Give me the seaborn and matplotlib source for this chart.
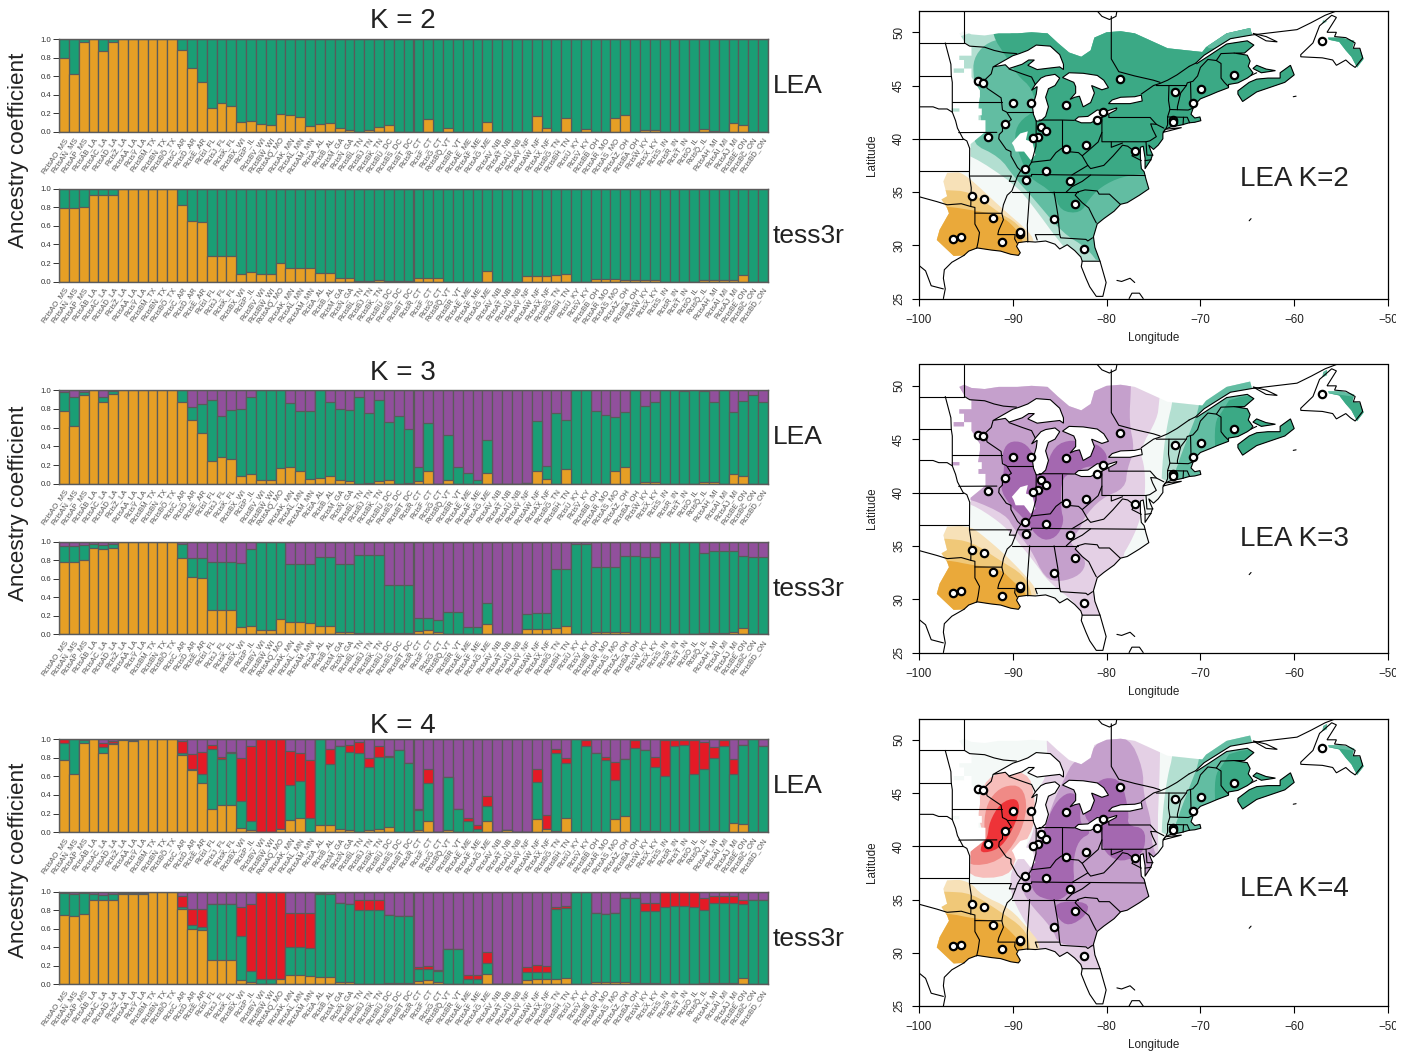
"""
plot.py
-------
Ancestry coefficient bar plots (LEA / tess3r) and interpolated ancestry maps for K = 2, 3, 4.
"""

import matplotlib
matplotlib.use("Agg")
import matplotlib.pyplot as plt
import numpy as np
import seaborn as sns
from matplotlib.patches import PathPatch, Polygon, Rectangle
from matplotlib.path import Path

# ------------------------------------------------------------------
#  Bar plot data (cumulative tops, bottom to top)
# ------------------------------------------------------------------

samples = [
    "RcisAO_MS", "RcisAN_MS", "RcisAP_MS", "RcisAB_LA", "RcisAC_LA", "RcisAD_LA", "RcisZ_LA", "RcisAA_LA",
    "RcisY_LA", "RcisBM_TX", "RcisBN_TX", "RcisBO_TX", "RcisC_AR", "RcisD_AR", "RcisE_AR", "RcisI_FL",
    "RcisJ_FL", "RcisK_FL", "RcisBX_WI", "RcisP_IL", "RcisBV_WI", "RcisBW_WI", "RcisAQ_MO", "RcisAK_MN",
    "RcisAL_MN", "RcisAM_MN", "RcisA_AL", "RcisB_AL", "RcisM_GA", "RcisN_GA", "RcisBL_TN", "RcisBJ_TN",
    "RcisBK_TN", "RcisBU_DC", "RcisBS_DC", "RcisBT_DC", "RcisR_CT", "RcisF_CT", "RcisG_CT", "RcisBQ_VT",
    "RcisBR_VT", "RcisAE_ME", "RcisAF_ME", "RcisAG_ME", "RcisAV_NB", "RcisAT_NB", "RcisAU_NB", "RcisAY_NF",
    "RcisAW_NF", "RcisAX_NF", "RcisBG_TN", "RcisBH_TN", "RcisU_KY", "RcisV_KY", "RcisBB_OH", "RcisAR_MO",
    "RcisAS_MO", "RcisAZ_OH", "RcisBA_OH", "RcisW_KY", "RcisX_KY", "RcisS_IN", "RcisR_IN", "RcisT_IN",
    "RcisO_IL", "RcisQ_IL", "RcisAH_MI", "RcisAI_MI", "RcisAJ_MI", "RcisBE_ON", "RcisBC_ON", "RcisBD_ON",
]

k2_lea_orange = [.80, .62, .97, 1, .87, .97, 1, 1, 1, 1, 1, 1, .88, .69, .54, .26, .31, .28, .11, .12,
                 .09, .08, .19, .18, .16, .06, .085, .095, .04, .02, 0, .02, .05, .07, 0, 0, 0, .14, 0, .04,
                 0, 0, 0, .11, 0, 0, 0, .005, .17, .04, 0, .15, 0, .03, 0, 0, .15, .18, 0, .025,
                 .02, 0, 0, 0, 0, .03, .01, 0, .10, .08, 0, 0]
k2_tess_orange = [.79, .79, .80, .93, .93, .93, 1, 1, 1, 1, 1, 1, .82, .65, .645, .275, .275, .275, .085, .10,
                  .08, .08, .20, .15, .15, .145, .09, .095, .035, .035, .01, .01, .02, .01, .005, .005, .045, .045, .035, 0,
                  0, 0, 0, .12, 0, 0, 0, .06, .06, .06, .07, .08, 0, 0, .03, .03, .03, .02, .015, .015,
                  .015, 0, 0, 0, 0, .02, .02, .02, .02, .07, 0, 0]

k3_lea_orange = [.78, .62, .95, 1, .87, .96, 1, 1, 1, 1, 1, 1, .87, .68, .54, .24, .285, .265, .08, .10,
                 .04, .04, .165, .175, .14, .055, .065, .085, .04, .025, 0, .01, .03, .04, 0, .01, .025, .135, 0, .035,
                 0, 0, 0, .11, 0, 0, 0, .005, .14, .05, 0, .16, 0, 0, 0, 0, .14, .175, 0, .02,
                 .015, 0, 0, 0, 0, .02, .015, 0, .10, .08, 0, 0]
k3_lea_green = [.985, .93, .98, 1, .93, .99, 1, 1, 1, 1, 1, 1, 1, .82, .85, .90, .73, .785, .80, .93,
                1, 1, 1, .86, .78, .78, 1, .88, .795, .79, .93, .76, .895, .665, .72, .585, .175, .65, 0, .52,
                .18, .11, .035, .47, 0, 0, 0, .005, .67, .185, .76, .68, 1, 1, .78, .74, .71, .765, 1, .83,
                .875, 1, 1, .99, 1, .99, .875, 1, .765, .885, .955, .87]
k3_tess_orange = [.78, .78, .80, .935, .925, .935, 1, 1, 1, 1, 1, 1, .825, .62, .61, .265, .265, .265, .075, .09,
                  .05, .05, .165, .135, .135, .125, .09, .09, .03, .03, .01, .01, .015, .01, .01, .01, .04, .045, .03, 0,
                  0, 0, 0, .11, 0, 0, 0, .055, .06, .06, .07, .085, 0, 0, .025, .025, .03, .02, .015, .01,
                  .01, 0, 0, 0, 0, .015, .015, .015, .02, .07, 0, 0]
k3_tess_green = [.955, .955, .96, .97, .96, .97, 1, 1, 1, 1, 1, 1, .97, .825, .825, .785, .785, .785, .775, .925,
                 1, 1, 1, .755, .755, .755, .84, .84, .755, .755, .855, .855, .855, .535, .53, .535, .175, .18, .155, .24,
                 .24, .08, .08, .335, 0, 0, 0, .22, .225, .225, .70, .71, .97, .97, .73, .73, .73, .85, .85, .84,
                 .84, 1, 1, 1, 1, .875, .895, .895, .895, .85, .84, .84]

k4_lea_orange = [.78, .62, .955, 1, .855, .95, .99, .975, 1, 1, 1, 1, .83, .67, .525, .245, .295, .29, .05, .03,
                 0, 0, .04, .135, .15, 0, .08, .08, .04, .025, 0, .03, .04, .055, 0, 0, .02, .12, 0, .03,
                 0, 0, 0, .12, 0, .02, 0, .005, .14, .04, .01, .15, 0, 0, .005, 0, .14, .17, 0, .01,
                 .01, 0, 0, 0, 0, .01, .01, 0, .095, .085, 0, 0]
k4_lea_green = [.96, 1, .985, 1, .915, .955, .99, .975, 1, 1, 1, 1, .845, .68, .625, .89, .79, .855, .34, .125,
                0, 0, .04, .505, .545, .155, 1, .73, .925, .865, .845, .705, .805, .81, .885, .74, .235, .525, 0, .59,
                .245, .125, .04, .28, 0, .02, 0, .005, .54, .04, .845, .745, 1, .92, .845, .77, .56, .79, .905, .88,
                .70, .605, .92, .94, .63, .68, .80, .93, .63, .94, 1, .93]
k4_lea_red = [.995, 1, .99, 1, .96, .98, .99, .99, 1, 1, 1, 1, .975, .84, .86, .94, .81, .86, .80, .92,
              1, 1, 1, .87, .85, .775, 1, .89, .93, .935, .97, .80, .92, .815, .885, .745, .255, .68, 0, .59,
              .245, .15, .075, .39, 0, .02, 0, .005, .675, .185, .89, .80, 1, .99, .845, .805, .755, .79, .99, .88,
              .81, .99, .99, .99, .99, .97, .91, .99, .79, .94, 1, .93]
k4_tess_orange = [.745, .735, .755, .915, .905, .91, .97, .97, .975, 1, 1, 1, .815, .60, .585, .265, .265, .265, .05, .03,
                  0, 0, .06, .10, .10, .09, .075, .08, .03, .03, 0, 0, 0, .01, .01, .01, .04, .045, .03, 0,
                  0, 0, 0, .115, 0, 0, 0, .05, .06, .055, .055, .065, 0, 0, .02, .02, .03, .03, .015, .01,
                  .01, 0, 0, 0, 0, .015, .01, .01, .015, .065, 0, 0]
k4_tess_green = [.985, .975, .985, .97, .965, .97, .97, .97, .975, 1, 1, 1, .835, .635, .62, .87, .87, .87, .525, .145,
                 .06, .06, .06, .40, .40, .395, .98, .97, .875, .87, .80, .80, .805, .75, .74, .74, .16, .165, .145, .38,
                 .38, .06, .06, .225, 0, 0, 0, .13, .135, .135, .81, .82, 1, 1, .765, .76, .77, .935, .935, .795,
                 .795, .84, .845, .845, .84, .80, .875, .875, .875, .865, .915, .915]
k4_tess_red = [.985, .975, .985, .97, .965, .97, .99, .99, .99, 1, 1, 1, .955, .815, .815, .87, .87, .87, .84, .87,
               1, 1, 1, .77, .765, .765, .985, .975, .875, .87, .915, .915, .915, .75, .74, .74, .185, .195, .15, .38,
               .38, .105, .105, .35, 0, 0, 0, .19, .205, .20, .84, .85, 1, 1, .765, .76, .77, .935, .935, .875,
               .875, .995, .995, .995, .995, .935, .955, .955, .955, .915, .915, .915]

# ------------------------------------------------------------------
#  Map data (lon, lat)
# ------------------------------------------------------------------

sites_lon = [-93.66, -93.21, -90.0, -88.06, -84.37, -78.54, -72.69, -69.93, -66.38, -57.01, -70.75, -72.91, -72.91,
             -80.41, -81.01, -90.82, -87.01, -86.46, -87.31, -87.87, -92.61, -82.24, -84.37, -76.98, -88.73, -86.49,
             -88.54, -83.92, -83.4, -94.4, -93.1, -92.09, -85.63, -89.18, -89.25, -96.42, -95.49, -91.19, -82.39]
sites_lat = [45.41, 45.26, 43.32, 43.32, 43.2, 45.57, 44.41, 44.63, 45.97, 49.19, 43.32, 41.76, 41.57,
             42.54, 41.73, 41.39, 41.14, 40.73, 40.2, 40.04, 40.17, 39.42, 39.01, 38.89, 37.2, 37.02,
             36.14, 35.99, 33.9, 34.61, 34.33, 32.58, 32.43, 31.09, 31.21, 30.62, 30.74, 30.34, 29.65]

north_shore = [(-64.5, 49.75), (-66.8, 49.4), (-69.6, 47.85), (-70.5, 47.1)]
range_north = [(-95.7, 49.9), (-95.2, 50.1), (-94.4, 49.8), (-93, 49.7), (-91.5, 49.9), (-89.5, 49.9), (-88, 50),
               (-86.3, 49.9), (-85.2, 49), (-84, 48.1), (-82.7, 47.7), (-81.7, 48.3), (-81.3, 49.5), (-80, 50),
               (-78.5, 50.1), (-77, 49.9), (-75.5, 49.3), (-73.5, 48.5), (-69.8, 48.15), (-69.4, 48.6),
               (-67.2, 49.9), (-64.7, 50.4)] + north_shore
coast_gaspe_maine = [(-70.4, 47.05), (-69, 47.85), (-67.2, 48.9), (-65, 49.2), (-64.3, 48.8), (-65.3, 48.05),
                     (-66.4, 48.05), (-65, 47.85), (-64.7, 47.3), (-64.9, 46.8), (-64.4, 46.2), (-64.6, 45.95),
                     (-65, 45.7), (-66, 45.25), (-67, 45.1), (-67, 44.8), (-68.2, 44.4), (-69, 44.1), (-70, 43.75),
                     (-70.6, 43.2), (-70.8, 42.8), (-71, 42.3), (-70.6, 41.95), (-70.05, 42.05), (-69.95, 41.7),
                     (-70.6, 41.55), (-71.2, 41.5), (-72, 41.3), (-73.2, 41.1), (-73.75, 40.9), (-74, 40.5)]
coast_atlantic = [(-74, 40), (-74.5, 39.4), (-75, 39), (-75.5, 39.4), (-75.3, 38.9), (-75.1, 38.5), (-75.3, 38),
                  (-75.9, 37.2), (-75.9, 38.2), (-76.1, 39.3), (-76.4, 39.2), (-76.4, 38.3), (-76.3, 37.2), (-76, 36.9),
                  (-75.8, 36.2), (-75.5, 35.3), (-76.5, 34.7), (-77.8, 34), (-78.5, 33.85), (-79.2, 33.2),
                  (-80.3, 32.5), (-81, 32), (-81.4, 30.8), (-81.25, 29.8), (-80.7, 28.5)]
coast_gulf_east = [(-82.6, 28.5), (-82.75, 28.9), (-83.4, 29.5), (-84.2, 30.05), (-85, 29.65), (-85.5, 30.1),
                   (-86.5, 30.4), (-87.6, 30.3), (-88.5, 30.35), (-89.4, 30.25), (-89.6, 29.9), (-89.2, 29.3),
                   (-89.4, 29.05), (-90.2, 29.15), (-91.3, 29.45), (-92.3, 29.55), (-93.8, 29.75), (-94.7, 29.45),
                   (-95.2, 29.05)]
range_west = [(-96.3, 29), (-98.1, 30.5), (-97.8, 31.45), (-96.8, 33), (-97, 33.5), (-97.6, 34.3), (-97, 34.6),
              (-97.4, 36), (-97, 36.8), (-94.6, 36.9), (-94.5, 38.6), (-94.5, 39.5), (-92.9, 40.65), (-92.9, 41.75),
              (-93.65, 41.75), (-93.65, 42.2), (-93.3, 42.2), (-93.3, 42.85), (-93.7, 42.85), (-93.5, 43.95),
              (-93.5, 44.55), (-94.4, 45.8), (-94.4, 46.6), (-95.2, 46.6), (-95.2, 47.4), (-95.7, 47.4), (-95.7, 47.8),
              (-94.4, 47.8), (-94.4, 48.6), (-95.15, 49.1)]
range_patch_dakota = [(-96.3, 46.2), (-95.2, 46.2), (-95.2, 46.6), (-96.3, 46.6)]
range_patch_iowa = [(-96.5, 42.55), (-95.7, 42.55), (-95.7, 42.85), (-96.5, 42.85)]
nova_scotia = [(-66, 44.2), (-65.5, 43.5), (-64, 44.4), (-62, 45), (-61, 45.3), (-60, 46), (-60.4, 46.9), (-61.5, 46.2),
               (-61.5, 45.7), (-62.8, 45.7), (-64, 45.6), (-64.8, 45.3), (-66, 44.5)]
pei = [(-64.4, 46.6), (-63.5, 46.2), (-62, 46.4), (-63, 46.55), (-64, 46.9)]
nfld_range = [(-56.4, 49.5), (-55, 49.5), (-53.6, 49.2), (-53.8, 48.5), (-53, 48.4), (-52.6, 47.5), (-53.3, 46.7),
              (-53.6, 47.2), (-53.9, 47.7), (-54.5, 48.3), (-55.2, 49.1), (-56.3, 49.3)]
nfld_patch = [(-57, 50.8), (-56.5, 51), (-56.5, 51.5), (-56.9, 51.3)]
illinois_hole = [(-90.1, 39.6), (-89.2, 40.5), (-88.4, 40.7), (-88.6, 39.9), (-87.9, 39.7), (-87.6, 38.5), (-88.1, 38),
                 (-88.8, 38.8), (-89.7, 38.8), (-89.9, 39.3)]

lake_superior = [(-92.1, 46.75), (-90.8, 46.95), (-90.4, 46.6), (-89, 47), (-88.3, 47.4), (-87.7, 47.4), (-88.4, 46.9),
                 (-87.4, 46.5), (-86, 46.65), (-85, 46.75), (-84.6, 46.5), (-84.6, 47), (-85, 47.9), (-86, 48.7),
                 (-87.5, 48.8), (-88.4, 48.3), (-89.3, 48), (-90, 47.8), (-91, 47.3)]
lake_michigan = [(-87.5, 41.65), (-87, 41.7), (-86.5, 42.1), (-86.2, 43), (-86.5, 43.9), (-86.2, 44.7), (-85.5, 45),
                 (-85, 45.7), (-85.5, 46.05), (-86.5, 45.9), (-87, 45.7), (-87.6, 45.1), (-88, 44.55), (-87.4, 44.9),
                 (-87.5, 44.2), (-87.9, 43), (-87.8, 42.3)]
lake_huron = [(-84.7, 45.75), (-83.5, 45.3), (-83.3, 44.9), (-83.3, 44.3), (-83.9, 43.7), (-83.4, 43.9), (-82.9, 44),
              (-82.5, 43), (-81.7, 43.4), (-81.3, 44.3), (-81.6, 45), (-80.5, 44.6), (-79.8, 44.8), (-80.3, 45.5),
              (-81, 45.95), (-82.5, 46.15), (-84, 46.2)]
lake_erie = [(-83.4, 41.75), (-82.7, 41.5), (-81.7, 41.5), (-80.5, 42), (-79, 42.7), (-78.9, 42.9), (-80, 42.6),
             (-81, 42.7), (-82, 42.1), (-83, 42.05)]
lake_ontario = [(-79.8, 43.3), (-79, 43.3), (-77.5, 43.3), (-76.2, 43.55), (-76.3, 44.1), (-77, 43.95), (-78.5, 43.9),
                (-79.4, 43.65)]
anticosti = [(-64.4, 49.9), (-63, 49.6), (-61.8, 49.1), (-63, 49.2)]
long_island = [(-74, 40.6), (-72, 41.05), (-73.7, 40.9)]
nfld_outline = [(-59.3, 47.9), (-58, 49), (-57.3, 50.6), (-56, 51.6), (-55.5, 51.4), (-56.5, 50), (-55.5, 50), (-55.7, 49.6),
                (-54.5, 49.5), (-53.5, 49), (-53.7, 48.5), (-53, 48.5), (-52.7, 47.6), (-53.5, 46.7), (-54, 47),
                (-54.5, 47.4), (-55.5, 46.9), (-55.9, 47.4), (-57, 47.6), (-59.3, 47.7)]

outline_rest = [
    [(-97.4, 25), (-97.2, 25.9), (-97.4, 26.9), (-97.3, 27.7), (-96.5, 28.4), (-95.2, 29.05)],
    [(-82.6, 28.5), (-82.7, 28), (-82.2, 26.9), (-81.8, 26.1), (-81.1, 25.2), (-80.4, 25.2), (-80.05, 26.5), (-80.7, 28.5)],
    [(-64.6, 45.95), (-64, 46.2)],
    [(-71.2, 46.8), (-72.5, 46), (-73.5, 45.5), (-74.3, 45.2), (-75, 45), (-76.3, 44.2)],
    [(-70.5, 47.1), (-71.2, 46.8)],
    [(-70.5, 47.1), (-69.6, 47.85), (-66.8, 49.4), (-64.5, 49.75), (-59.7, 50.25), (-58.2, 50.9), (-56.7, 51.6), (-55.5, 52)],
    [(-81, 52), (-80.5, 51.5), (-79.7, 51.2), (-79, 51.5), (-78.9, 52)],
    [(-78.9, 26.7), (-78.4, 26.6), (-77.5, 26.9), (-77, 26.5)],
    [(-77.6, 25), (-77.3, 25.5), (-76.5, 25.5), (-76.1, 25)],
    [(-60.1, 43.95), (-59.8, 44)],
    [(-64.8, 32.3), (-64.6, 32.5)],
]

border_lines = [
    [(-100, 49), (-95.15, 49), (-95.15, 52)],
    [(-95.15, 49), (-94.6, 48.7), (-93, 48.6), (-92, 48.3), (-91, 48.1), (-89.6, 48)],
    [(-79.5, 51.5), (-79.5, 47.5), (-78.7, 46.3), (-77, 45.9), (-75, 45.5), (-74.3, 45.3)],
    [(-100, 45.94), (-96.56, 45.94)],
    [(-100, 43), (-98.5, 43), (-97.9, 42.8), (-97, 42.8), (-96.45, 42.5)],
    [(-100, 40), (-95.3, 40)],
    [(-100, 37), (-94.62, 37)],
    [(-96.45, 43.5), (-91.2, 43.5)],
    [(-95.77, 40.58), (-91.7, 40.6)],
    [(-97.2, 49), (-96.6, 47), (-96.56, 45.94), (-96.45, 45.3), (-96.45, 43.5), (-96.45, 42.5), (-96.1, 41.7), (-95.9, 41),
     (-95.3, 40), (-94.9, 39.8), (-94.6, 39.1), (-94.62, 36.5), (-94.43, 35.4), (-94.48, 33.64)],
    [(-100, 34.56), (-98.1, 34.1), (-97, 33.8), (-95.5, 33.9), (-94.48, 33.64), (-94.04, 33.55), (-94.04, 31.99),
     (-93.55, 31.2), (-93.7, 30.3), (-93.85, 29.7)],
    [(-94.04, 33.02), (-91.17, 33)],
    [(-94.62, 36.5), (-90.15, 36.5), (-90.37, 36), (-89.7, 36)],
    [(-92.1, 46.75), (-92.3, 46.1), (-92.9, 45.6), (-92.75, 44.75), (-91.25, 43.85), (-91.2, 43.5), (-91.1, 42.7), (-90.65, 42.5),
     (-90.15, 41.8), (-91.1, 41.2), (-91.1, 40.7), (-91.45, 40.4), (-91.5, 40), (-90.7, 39), (-90.2, 38.8), (-90.2, 38.4),
     (-89.5, 37.3), (-89.15, 37), (-89.5, 36.5), (-89.7, 36), (-90.1, 35.1), (-90.6, 34.7), (-91, 33.8), (-91.17, 33),
     (-91, 32.4), (-91.5, 31.4), (-91.6, 31), (-89.75, 31), (-89.8, 30.6), (-89.55, 30.2)],
    [(-88.2, 35), (-88.45, 31.9), (-88.4, 30.3)],
    [(-90.1, 35), (-85.6, 35), (-84.3, 35), (-83.1, 35)],
    [(-89.5, 36.5), (-88, 36.5), (-88, 36.65), (-83.7, 36.6), (-81.7, 36.6), (-75.9, 36.55)],
    [(-85.6, 35), (-85.2, 32.9), (-85, 31), (-84.9, 30.7), (-82.2, 30.55), (-82, 30.4), (-81.5, 30.7)],
    [(-87.4, 30.5), (-87.6, 31), (-85, 31)],
    [(-83.1, 35), (-83.35, 34.7), (-82.6, 34), (-81.9, 33.5), (-81.4, 32.6), (-81.1, 32.1)],
    [(-83.1, 35), (-82.3, 35.2), (-81, 35.1), (-80.8, 34.8), (-79.7, 34.8), (-78.55, 33.85)],
    [(-81.7, 36.6), (-82.6, 36), (-83.7, 35.5), (-84.3, 35)],
    [(-83.7, 36.6), (-82, 37.5), (-82.6, 38.4)],
    [(-82, 37.5), (-81.7, 37.2), (-80.3, 37.5), (-79.3, 38.4), (-78.3, 39.4), (-77.75, 39.3), (-77, 38.8), (-77.3, 38.4), (-76.3, 37.95)],
    [(-89.15, 37), (-88.5, 37.1), (-88, 37.8), (-87, 37.9), (-86, 38), (-85.4, 38.7), (-84.8, 39.1), (-84.2, 38.8), (-83, 38.7),
     (-82.6, 38.4), (-81.8, 39), (-80.9, 39.7), (-80.5, 40.6)],
    [(-84.8, 39.1), (-84.8, 41.76)],
    [(-87.5, 41.7), (-87.53, 39.3), (-88, 37.8)],
    [(-90.65, 42.5), (-87.8, 42.5)],
    [(-87.2, 41.76), (-84.8, 41.76), (-83.45, 41.73)],
    [(-80.5, 42), (-80.5, 39.72), (-75.8, 39.72), (-75.4, 39.8), (-74.7, 40.2), (-75.1, 40.9), (-75.3, 41.4), (-74.7, 41.36), (-73.9, 41)],
    [(-79.76, 42.27), (-79.76, 42), (-75.35, 42), (-74.7, 41.36)],
    [(-79.5, 39.72), (-79.5, 39.2), (-78.3, 39.6)],
    [(-75.8, 39.72), (-75.7, 38.46), (-75.05, 38.46)],
    [(-75.9, 37.95), (-75.25, 38.03)],
    [(-73.35, 45), (-73.4, 43.6), (-73.25, 42.75), (-73.5, 42.05), (-73.5, 41.3), (-73.65, 41)],
    [(-71.5, 45), (-72.1, 44.3), (-72.45, 43), (-72.45, 42.73)],
    [(-73.25, 42.75), (-71.3, 42.7), (-70.8, 42.87)],
    [(-73.5, 42.05), (-71.8, 42.02), (-71.4, 42.02), (-71.15, 41.5)],
    [(-71.8, 42.02), (-71.85, 41.32)],
    [(-71.05, 45.3), (-71, 43.5), (-70.7, 43.07)],
    [(-74.7, 45), (-71.5, 45), (-71.4, 45.25), (-70.8, 45.4), (-70.3, 45.9), (-70, 46.7), (-69.2, 47.45), (-68.3, 47.35),
     (-67.8, 47.07), (-67.8, 45.7), (-67.45, 45.3), (-67, 44.9)],
    [(-68.3, 47.35), (-67.8, 48), (-66.4, 48.05)],
    [(-90.4, 46.55), (-89, 46.1), (-88, 45.8), (-87.6, 45.1)],
    [(-100, 28.1), (-99.3, 27.6), (-98.7, 26.2), (-97.4, 25.9)],
]

# ancestry bands, lightest first
k2_green_light = [(-96, 38.5), (-94.5, 38.5), (-89.9, 35.8), (-88.1, 34), (-84.7, 29.9), (-82.5, 28), (-70, 28), (-50, 40), (-50, 52), (-100, 52)]
k2_green_mid = [(-94.5, 39.6), (-91.4, 38.3), (-89.9, 36.45), (-87.7, 34.3), (-84.7, 31.15), (-82.1, 29.75), (-80.6, 28), (-60, 28), (-50, 40),
                (-50, 52), (-89, 52), (-89, 50.5), (-91, 49.5), (-93, 48.9), (-94.2, 47.5), (-94.2, 45.8), (-93.7, 43.5), (-93.2, 41)]
k2_green_dark = [(-92.2, 52), (-92.2, 49.7), (-90.7, 47.7), (-89.55, 46), (-87.9, 44.7), (-87.5, 42.7), (-89.4, 41.6), (-89.9, 39.9), (-88.8, 37.4),
                 (-88.4, 36.45), (-85.6, 34.9), (-84.9, 33.2), (-82.8, 33), (-81.9, 34.3), (-80.6, 35.5), (-78.4, 36.45), (-75.4, 36.8), (-50, 36.8), (-50, 52)]
k2_green_strip = [(-69.6, 48.0), (-66.8, 49.35), (-64.5, 49.7), (-60, 50), (-60, 52), (-70, 52)]
k2_orange_light = [(-100, 37.1), (-97, 37.1), (-95.7, 36.9), (-94.4, 36.15), (-91.4, 33.65), (-88.1, 31.15), (-87.7, 30.2), (-87.7, 28), (-100, 28)]
k2_orange_mid = [(-100, 35.2), (-97.6, 35.2), (-94.4, 35.05), (-91.4, 33), (-89.55, 32.1), (-88.25, 30.5), (-88.25, 28), (-100, 28)]
k2_orange_dark = [(-100, 33.65), (-97, 33.65), (-94.4, 33.3), (-91.4, 32.85), (-89.9, 31.8), (-88.8, 30.4), (-88.8, 28), (-100, 28)]

k3_orange_light = [(-100, 36.95), (-97, 36.95), (-94.6, 36.8), (-93.65, 36.3), (-90.7, 34.1), (-87.7, 31.3), (-87.5, 30.5), (-87.5, 28), (-100, 28)]
k3_orange_mid = [(-100, 35.7), (-97.2, 35.7), (-94.4, 35.4), (-91.4, 33.65), (-88.8, 32.25), (-87.9, 30.5), (-87.9, 28), (-100, 28)]
k3_orange_dark = [(-100, 33.65), (-96.8, 33.65), (-94.4, 33.2), (-91.4, 32.9), (-89.9, 31.6), (-88.4, 30.5), (-88.4, 28), (-100, 28)]
k3_purple_light = [(-96, 39), (-94.5, 39), (-91.4, 37.25), (-89.9, 35.85), (-87.7, 33.5), (-86.2, 31.6), (-83.2, 29.6), (-82.45, 28), (-78, 28), (-78.5, 33.8),
                   (-77.4, 35.4), (-76.5, 37.25), (-75.9, 39.45), (-75.9, 42.25), (-76.5, 44), (-74.6, 46.9), (-74.4, 48.5), (-74, 52), (-100, 52)]
k3_purple_mid = [(-96, 39.4), (-94.5, 39.4), (-90.7, 37.9), (-89.9, 36.6), (-88.1, 34.75), (-86.6, 31.95), (-84.9, 31.6), (-82.8, 32.25), (-82.1, 33.5),
                 (-83.2, 34.75), (-84, 35.4), (-82.8, 36.6), (-82.5, 37.55), (-80.6, 39.45), (-78, 40.4), (-77.8, 42.25), (-77, 44), (-77.6, 46.6),
                 (-77.4, 49.75), (-77.4, 52), (-100, 52)]
k3_purple_dark = [(-91.2, 43.5), (-90.5, 44.8), (-88.8, 44.75), (-87.7, 43.5), (-87.5, 42), (-86.6, 42), (-85.6, 44.4), (-83.6, 45), (-82.1, 44.4), (-81, 44.6),
                  (-79.85, 43.5), (-80.2, 42.55), (-82.5, 42.4), (-83, 41.8), (-84.8, 41.6), (-84.9, 38.5), (-84.5, 37.25), (-85.4, 35.7), (-87.1, 35.5),
                  (-88.8, 37.55), (-90.3, 38.8), (-91.4, 40.4), (-90.85, 42.25)]
k3_green_light = [(-72.9, 52), (-72.9, 48.65), (-73.5, 46.6), (-74, 43.5), (-74.2, 40), (-50, 40), (-50, 52)]
k3_green_mid = [(-70, 52), (-70, 48.2), (-71.1, 45.7), (-72.2, 43.2), (-72.6, 42.1), (-73.5, 40.5), (-50, 40), (-50, 52)]
k3_green_dark = [(-66.5, 49.3), (-67.7, 47.55), (-68.5, 46.6), (-68.4, 43), (-50, 43), (-50, 49.3)]

k4_orange_light = [(-100, 37), (-97, 37), (-94.6, 36.7), (-93.3, 35.4), (-90.3, 34.2), (-88.1, 32), (-87.1, 30.9), (-87.1, 28), (-100, 28)]
k4_orange_mid = [(-100, 35.75), (-97.2, 35.75), (-94.4, 35.6), (-91.4, 33.9), (-88.8, 32.3), (-88.1, 30.75), (-88.1, 28), (-100, 28)]
k4_orange_dark = [(-100, 33.7), (-96.8, 33.7), (-94.4, 33.25), (-91.4, 32.95), (-89.9, 31.7), (-88.8, 30.6), (-88.8, 28), (-100, 28)]
k4_red_light = [(-92.35, 46.9), (-88.4, 47.1), (-87.6, 44.5), (-87.7, 41.7), (-89.55, 39.3), (-90.3, 37.1), (-94.9, 37.0), (-94.9, 39.6), (-93.1, 40.9), (-93.7, 42.9), (-93.7, 44.5)]
k4_red_mid = [(-92.5, 44.5), (-91, 45.7), (-89, 45.7), (-88.4, 43.55), (-89.4, 40.75), (-91.5, 38.5), (-94.8, 38.1), (-94.8, 39.5), (-92.9, 40.45), (-93.1, 42.6)]
k4_red_dark = [(-92.5, 42.3), (-91.3, 44.1), (-89.6, 44.6), (-89.2, 43.4), (-90.2, 41.2), (-91.5, 39.7), (-93.5, 39.3), (-93.3, 40.3), (-92.7, 40.75)]
k4_purple_light = [(-86.4, 52), (-86.4, 49.8), (-86.2, 47), (-87.5, 45), (-87.7, 41.5), (-88.6, 39.8), (-89.9, 38.25), (-90.3, 37), (-90.1, 35.1), (-88.1, 32), (-87.3, 30.5),
                   (-87.3, 28), (-74, 28), (-74.6, 41.4), (-74.4, 45.45), (-74.3, 48.55), (-74.3, 52)]
k4_purple_mid = [(-83.6, 47.9), (-81.5, 49), (-80.5, 50.3), (-77.6, 50.3), (-76.1, 47.3), (-76.1, 45), (-75.2, 42.3), (-75.2, 40), (-74, 38), (-75, 30), (-82.1, 30.6),
                 (-85.1, 30.75), (-85.8, 32.3), (-88.4, 34.8), (-89.2, 36.4), (-88.1, 37.9), (-86.6, 41.7), (-85.6, 44.4), (-84.3, 46.7)]
k4_purple_dark_a = [(-86.6, 41.7), (-85.6, 44), (-84, 45.2), (-82.7, 44.5), (-82.9, 42), (-81.5, 41.3), (-83, 40.6), (-83.6, 38.55), (-83.4, 36.3), (-84.7, 35), (-86, 34.9), (-87.8, 35.5), (-88.3, 37.5)]
k4_purple_dark_b = [(-82.5, 44), (-81.5, 45.6), (-80.2, 46.5), (-78.4, 46.2), (-77.6, 43.15), (-77.8, 41.95), (-75.9, 41.7), (-75.9, 39.8), (-76.8, 39), (-78.8, 38.5), (-80.5, 39.7), (-80.6, 41.8), (-82.2, 42.3)]
k4_purple_dark_c = [(-85.6, 34.8), (-81.9, 34.8), (-82.1, 33.55), (-84, 32.45), (-85.3, 33.25)]

# ------------------------------------------------------------------
#  Colours and layout (pixels in the 1408x1052 figure)
# ------------------------------------------------------------------

ORANGE, GREEN, PURPLE, RED = "#E69F25", "#1A9E75", "#91509C", "#E41A26"
EDGE = "#5A5A5A"
NEAR_WHITE = "#F4F9F7"
G1, G2, G3 = "#B3DFD1", "#62BDA2", "#3BA985"
O1, O2, O3 = "#F7E1B8", "#F0C878", "#EAA93A"
P1, P2, P3 = "#E4D0E5", "#C5A0CC", "#A468B0"
R1, R2, R3 = "#F7BEBB", "#F08A86", "#EE3338"

W, H = 1408, 1052
BAR_LEFT, BAR_RIGHT = 59, 768
MAP_LEFT, MAP_RIGHT = 919, 1388

sns.set_style("white")
plt.rcParams["font.family"] = ["Liberation Sans", "DejaVu Sans"]


def add_axes_px(fig, left, top, right, bottom):
    return fig.add_axes([left / W, 1 - bottom / H, (right - left) / W, (bottom - top) / H])


def text_px(fig, x, y, s, **kw):
    fig.text(x / W, 1 - y / H, s, **kw)


def smooth(points, rounds=2):
    # corner cutting, only to round the traced outlines
    pts = np.array(points, dtype=float)
    for _ in range(rounds):
        nxt = np.roll(pts, -1, axis=0)
        pts = np.column_stack([0.75 * pts + 0.25 * nxt, 0.25 * pts + 0.75 * nxt]).reshape(-1, 2)
    return pts


def draw_bars(fig, top, bottom, layers):
    """layers: list of (cumulative tops, colour), bottom to top; overdrawn from the top down."""
    ax = add_axes_px(fig, BAR_LEFT, top, BAR_RIGHT, bottom)
    for tops, color in reversed(layers):
        sns.barplot(x=samples, y=tops, color=color, width=1, saturation=1,
                    edgecolor=EDGE, linewidth=0.9, ax=ax)
    ax.set_xlim(-0.5, len(samples) - 0.5)
    ax.set_ylim(0, 1)
    ax.set_yticks([0, 0.2, 0.4, 0.6, 0.8, 1.0])
    ax.tick_params(axis="y", length=4, width=0.7, pad=1.5, labelsize=5.6, left=True, color="#333333", labelcolor="#333333")
    ax.tick_params(axis="x", length=0, pad=3, labelsize=5.6, labelcolor="#555555")
    plt.setp(ax.get_xticklabels(), rotation=55, ha="right", rotation_mode="anchor")
    for name, spine in ax.spines.items():
        spine.set_color(EDGE)
        spine.set_linewidth(1.0)
    return ax


def draw_map(fig, top, bottom, bands, label, label_y):
    ax = add_axes_px(fig, MAP_LEFT, top, MAP_RIGHT, bottom)
    ax.set_xlim(-100, -50)
    ax.set_ylim(25, 52)

    parts = [range_north + coast_gaspe_maine + coast_atlantic + coast_gulf_east + range_west,
             range_patch_dakota, range_patch_iowa, nova_scotia, pei, nfld_range, nfld_patch]
    range_path = Path.make_compound_path(*[Path(np.array(p + p[:1], dtype=float), closed=True) for p in parts])
    base = PathPatch(range_path, fc=NEAR_WHITE, ec="none", zorder=1)
    ax.add_patch(base)
    for color, poly in bands:
        patch = Polygon(smooth(poly), closed=True, fc=color, ec="none", zorder=2)
        ax.add_patch(patch)
        patch.set_clip_path(base)

    ax.add_patch(Polygon(illinois_hole, closed=True, fc="white", ec="none", zorder=3))
    for lake in [lake_superior, lake_michigan, lake_huron, lake_erie, lake_ontario, anticosti, long_island]:
        ax.add_patch(Polygon(lake, closed=True, fc="white", ec="black", lw=0.8, zorder=4))

    for closed in [nova_scotia, pei, nfld_outline]:
        ax.add_patch(Polygon(closed, closed=True, fc="none", ec="black", lw=0.8, zorder=5))
    shore = coast_gaspe_maine + coast_atlantic + coast_gulf_east
    for line in [shore] + outline_rest + border_lines:
        xs, ys = zip(*line)
        ax.plot(xs, ys, color="black", lw=0.8, zorder=5, solid_joinstyle="round")

    sns.scatterplot(x=sites_lon, y=sites_lat, s=28, color="white", edgecolor="black", linewidth=1.6, ax=ax, zorder=6)

    ax.set_xticks(range(-100, -49, 10))
    ax.set_xticklabels(["\u2212100", "\u221290", "\u221280", "\u221270", "\u221260", "\u221250"])
    ax.set_yticks(range(25, 51, 5))
    ax.tick_params(axis="both", length=5, width=0.8, labelsize=8.4, bottom=True, left=True, color="black", labelcolor="#222222")
    ax.tick_params(axis="x", pad=6)
    ax.tick_params(axis="y", pad=5)
    plt.setp(ax.get_yticklabels(), rotation=90, va="center")
    for spine in ax.spines.values():
        spine.set_color("black")
        spine.set_linewidth(0.9)
    text_px(fig, (MAP_LEFT + MAP_RIGHT) / 2 + 0.5, bottom + 39, "Longitude", ha="center", va="center", fontsize=8.4, color="#222222")
    text_px(fig, 872, (top + bottom) / 2, "Latitude", ha="center", va="center", rotation=90, fontsize=8.4, color="#222222")
    text_px(fig, 1294, label_y, label, ha="center", va="center", fontsize=20, color="#222222")
    return ax


fig = plt.figure(figsize=(W / 100, H / 100), dpi=100)

panels = [
    ("K = 2", 21, 150.5,
     (39, 132, [(k2_lea_orange, ORANGE), ([1] * 72, GREEN)]),
     (188.5, 281.7, [(k2_tess_orange, ORANGE), ([1] * 72, GREEN)])),
    ("K = 3", 373, 503.5,
     (390.3, 483.7, [(k3_lea_orange, ORANGE), (k3_lea_green, GREEN), ([1] * 72, PURPLE)]),
     (541.7, 634.3, [(k3_tess_orange, ORANGE), (k3_tess_green, GREEN), ([1] * 72, PURPLE)])),
    ("K = 4", 726, 860,
     (739, 832.3, [(k4_lea_orange, ORANGE), (k4_lea_green, GREEN), (k4_lea_red, RED), ([1] * 72, PURPLE)]),
     (891.7, 984.3, [(k4_tess_orange, ORANGE), (k4_tess_green, GREEN), (k4_tess_red, RED), ([1] * 72, PURPLE)])),
]

for title, title_y, ylabel_y, lea, tess in panels:
    text_px(fig, 403, title_y, title, ha="center", va="center", fontsize=20, color="#222222")
    text_px(fig, 19, ylabel_y, "Ancestry coefficient", ha="center", va="center", rotation=90, fontsize=16.2, color="#222222")
    for (top, bottom, layers), name in [(lea, "LEA"), (tess, "tess3r")]:
        draw_bars(fig, top, bottom, layers)
        text_px(fig, 773, (top + bottom) / 2 + 0.5, name, ha="left", va="center", fontsize=19, color="#222222")

k2_bands = [(G1, k2_green_light), (G2, k2_green_mid), (G3, k2_green_dark), (G2, k2_green_strip),
            (O1, k2_orange_light), (O2, k2_orange_mid), (O3, k2_orange_dark)]
k3_bands = [(P1, k3_purple_light), (P2, k3_purple_mid), (P3, k3_purple_dark),
            (G1, k3_green_light), (G2, k3_green_mid), (G3, k3_green_dark),
            (O1, k3_orange_light), (O2, k3_orange_mid), (O3, k3_orange_dark)]
k4_bands = [(P1, k4_purple_light), (P2, k4_purple_mid), (P3, k4_purple_dark_a), (P3, k4_purple_dark_b), (P3, k4_purple_dark_c),
            (G1, k3_green_light), (G2, k3_green_mid), (G3, k3_green_dark),
            (O1, k4_orange_light), (O2, k4_orange_mid), (O3, k4_orange_dark),
            (R1, k4_red_light), (R2, k4_red_mid), (R3, k4_red_dark)]

draw_map(fig, 11, 298.5, k2_bands, "LEA K=2", 179)
draw_map(fig, 364.5, 652.5, k3_bands, "LEA K=3", 539)
draw_map(fig, 718.5, 1006, k4_bands, "LEA K=4", 889)

# the reference is cropped just past the last tick label
fig.add_artist(Rectangle((1396 / W, 0), 12 / W, 1, transform=fig.transFigure, fc="white", ec="none", zorder=20))

fig.savefig("out.png", dpi=100)
plt.close(fig)
